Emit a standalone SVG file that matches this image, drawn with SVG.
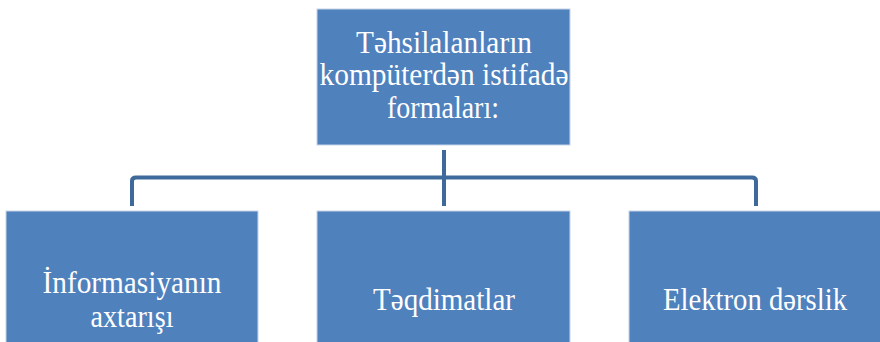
<svg xmlns="http://www.w3.org/2000/svg" width="880" height="342" viewBox="0 0 880 342">
<style>
.box{fill:#4f81bd;stroke:#c6d4e8;stroke-width:1}
.t{font-family:'Liberation Serif','DejaVu Serif',serif;font-size:31px;fill:#ffffff;text-anchor:middle}
.c{fill:none;stroke:#3d6a9a;stroke-width:4;stroke-linejoin:round}
</style>
<rect width="880" height="342" fill="#ffffff"/>
<g id="connectors">
<path class="c" d="M132,206 V181 Q132,177.5 136,177.5 H752 Q756,177.5 756,181 V206"/>
<path class="c" d="M444,150 V206"/>
</g>
<g id="root">
<rect class="box" x="317" y="9" width="253" height="136"/>
<text class="t" x="444" y="53" textLength="176" lengthAdjust="spacingAndGlyphs">Təhsilalanların</text>
<text class="t" x="444" y="85" textLength="249" lengthAdjust="spacingAndGlyphs">kompüterdən istifadə</text>
<text class="t" x="443" y="118" textLength="112" lengthAdjust="spacingAndGlyphs">formaları:</text>
</g>
<g id="node1">
<rect class="box" x="6" y="211" width="252" height="135"/>
<text class="t" x="132" y="293" textLength="179" lengthAdjust="spacingAndGlyphs">İnformasiyanın</text>
<text class="t" x="132" y="327" textLength="83" lengthAdjust="spacingAndGlyphs">axtarışı</text>
</g>
<g id="node2">
<rect class="box" x="317" y="211" width="253" height="135"/>
<text class="t" x="444" y="310" textLength="142" lengthAdjust="spacingAndGlyphs">Təqdimatlar</text>
</g>
<g id="node3">
<rect class="box" x="629" y="211" width="255" height="135"/>
<text class="t" x="755" y="310" textLength="184" lengthAdjust="spacingAndGlyphs">Elektron dərslik</text>
</g>
</svg>
